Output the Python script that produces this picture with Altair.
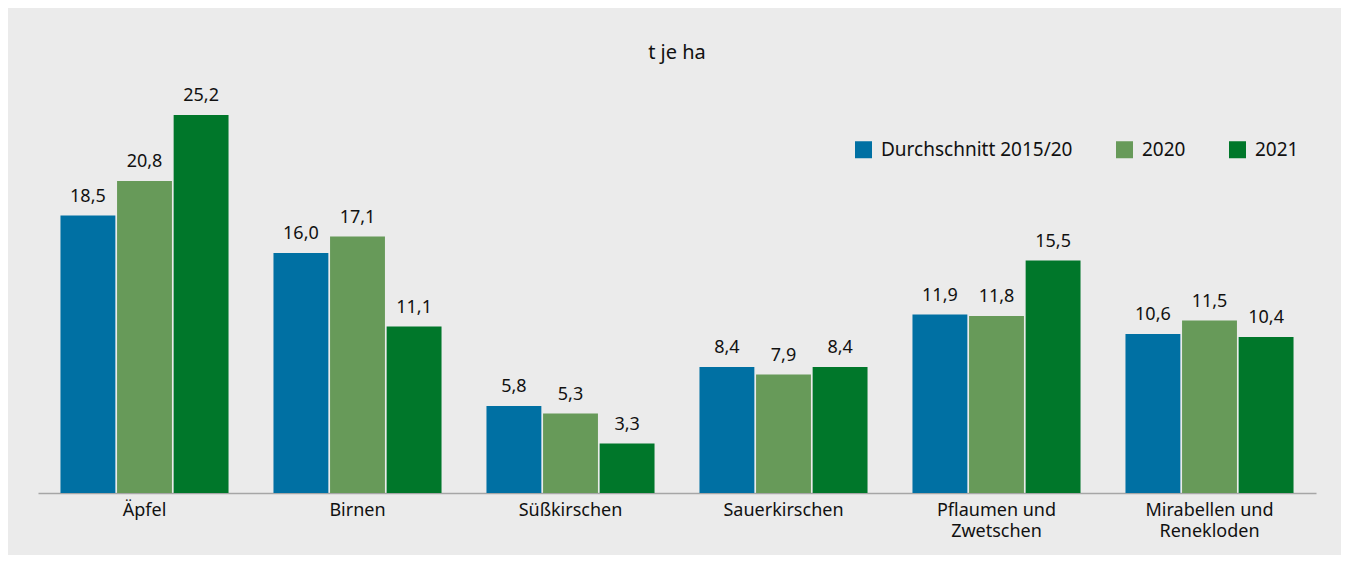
import altair as alt
import pandas as pd

categories = ["Äpfel", "Birnen", "Süßkirschen", "Sauerkirschen", "Pflaumen und Zwetschen", "Mirabellen und Renekloden"]
series = ["Durchschnitt 2015/20", "2020", "2021"]
avg_2015_20 = [18.5, 16.0, 5.8, 8.4, 11.9, 10.6]
y2020 = [20.8, 17.1, 5.3, 7.9, 11.8, 11.5]
y2021 = [25.2, 11.1, 3.3, 8.4, 15.5, 10.4]
colors = ["#0070a3", "#679a59", "#00772a"]

rows = []
for i, c in enumerate(categories):
    for s, vals in zip(series, [avg_2015_20, y2020, y2021]):
        rows.append({"Kategorie": c, "Serie": s, "Wert": vals[i]})
df = pd.DataFrame(rows)

FONT = "Noto Sans"

x = alt.X(
    "Kategorie:N",
    sort=categories,
    title=None,
    scale=alt.Scale(paddingInner=0.211, paddingOuter=0.1055),
    axis=alt.Axis(
        labelAngle=0,
        ticks=False,
        domainColor="#a6a6a6",
        domainWidth=1.5,
        labelFontSize=18,
        labelFont=FONT,
        labelColor="#111111",
        labelPadding=8,
        labelLineHeight=21,
        labelLimit=300,
        labelExpr="split(replace(datum.label, ' und ', ' und|'), '|')",
    ),
)
xoff = alt.XOffset("Serie:N", sort=series, scale=alt.Scale(paddingInner=0.03))
y = alt.Y("Wert:Q", scale=alt.Scale(domain=[0, 27.87]), axis=None)

bars = alt.Chart(df).mark_bar().encode(
    x=x,
    xOffset=xoff,
    y=y,
    color=alt.Color(
        "Serie:N",
        sort=series,
        scale=alt.Scale(domain=series, range=colors),
        legend=alt.Legend(
            title=None,
            orient="none",
            legendX=816,
            legendY=65,
            direction="horizontal",
            symbolType="square",
            symbolSize=289,
            symbolStrokeWidth=0,
            symbolOpacity=1,
            labelFontSize=19,
            labelFont=FONT,
            labelColor="#111111",
            labelLimit=400,
            columnPadding=42,
            labelOffset=8,
        ),
    ),
)

labels = alt.Chart(df).mark_text(
    baseline="alphabetic", dy=-14, fontSize=18, font=FONT, color="#111111"
).transform_calculate(
    lab="replace(format(datum.Wert, '.1f'), '.', ',')"
).encode(
    x=x,
    xOffset=xoff,
    y=y,
    text="lab:N",
)

chart = (
    alt.layer(bars, labels)
    .properties(
        width=1278,
        height=418,
        title=alt.TitleParams("t je ha", fontSize=20, font=FONT, fontWeight="normal", color="#111111", offset=12, anchor="middle"),
        background="#ebebeb",
        padding={"left": 30, "right": 25, "top": 67, "bottom": 62},
        autosize=alt.AutoSizeParams(type="none"),
    )
    .configure_view(stroke=None)
)

chart.save("out.html", embed_options={"renderer": "svg", "actions": False})
